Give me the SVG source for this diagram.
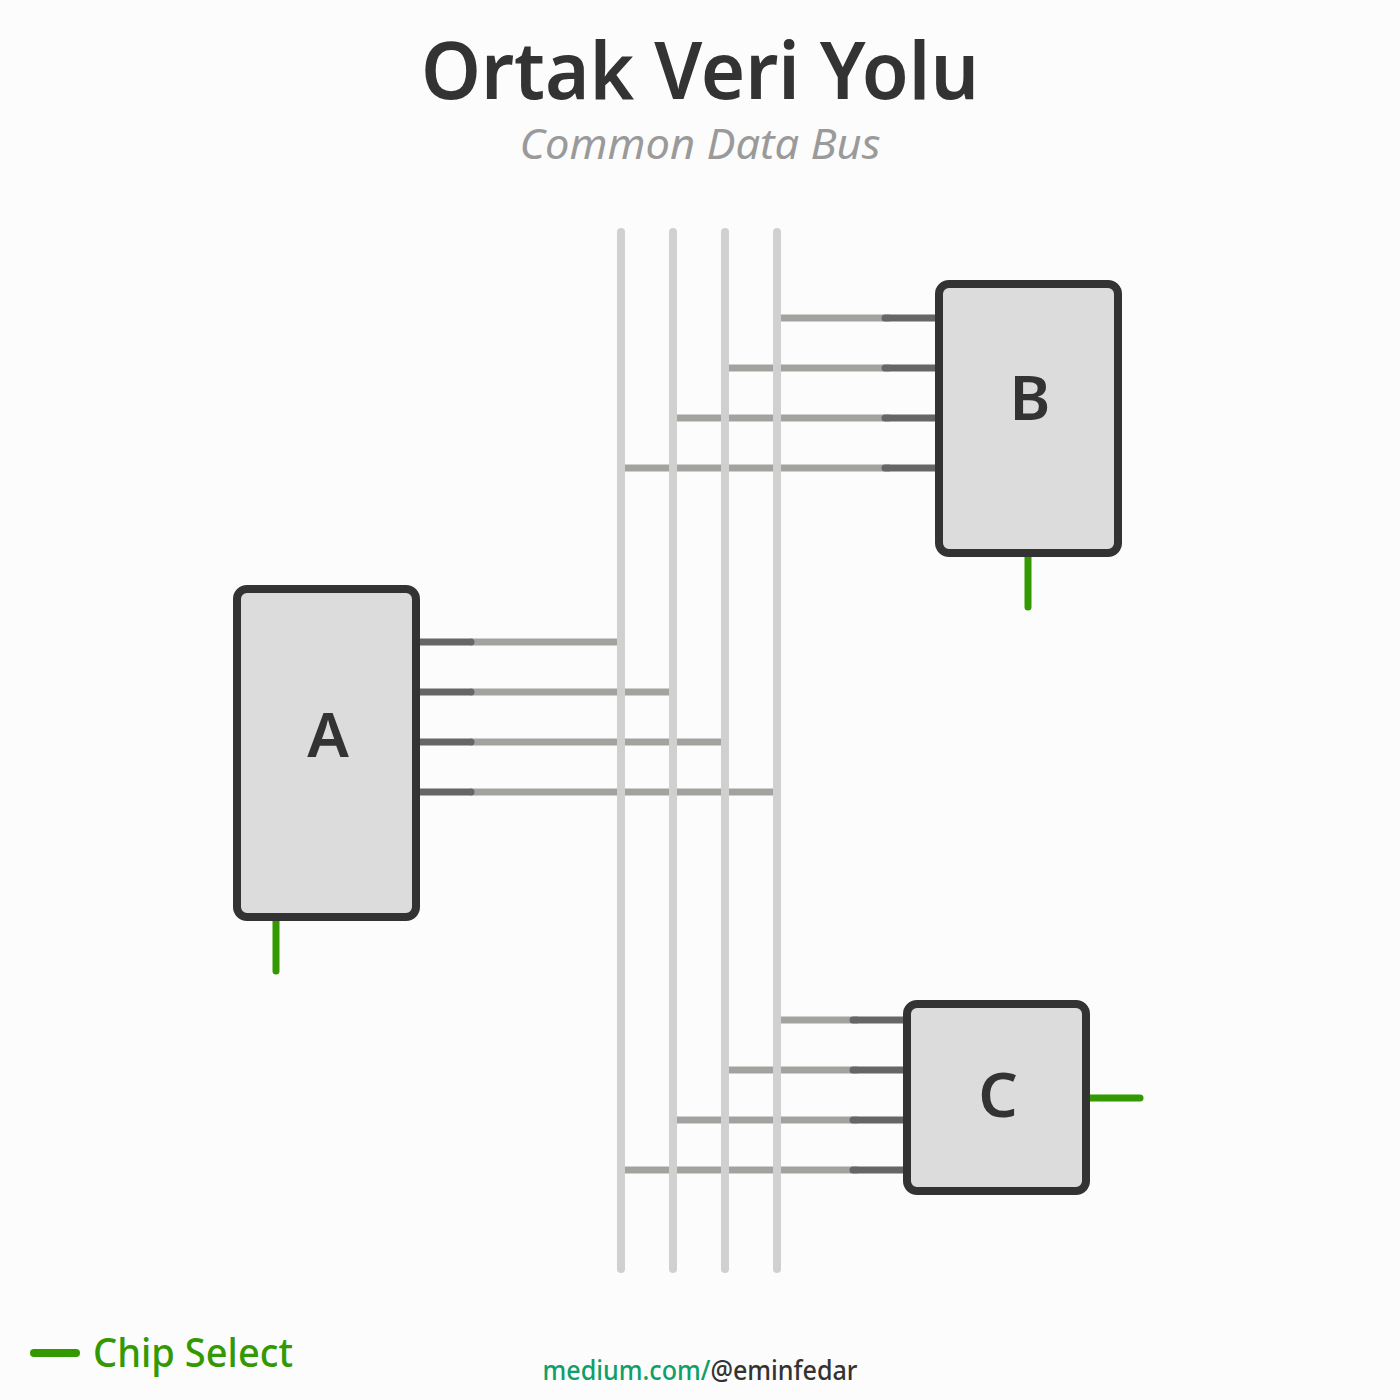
<svg xmlns="http://www.w3.org/2000/svg" width="1400" height="1400" viewBox="0 0 1400 1400">
<style>
.bus{stroke:#d0d0d0;stroke-width:8;stroke-linecap:round;fill:none}
.wire{stroke:#a2a29e;stroke-width:7;fill:none}
.pin{stroke:#666;stroke-width:7;stroke-linecap:round;fill:none}
.cs{stroke:#339900;stroke-width:7;stroke-linecap:round;fill:none}
.box{fill:#dcdcdc;stroke:#333;stroke-width:8}
.lbl{font-family:"Noto Sans","Open Sans",sans-serif;font-weight:600;font-size:62px;fill:#333;text-anchor:middle}
</style>
<rect width="1400" height="1400" fill="#fcfcfc"/>
<text x="700" y="99" font-family="Noto Sans, Open Sans, sans-serif" font-weight="600" font-size="80" fill="#333" text-anchor="middle" textLength="558" lengthAdjust="spacingAndGlyphs">Ortak Veri Yolu</text>
<text x="700" y="159" font-family="Noto Sans, Open Sans, sans-serif" font-style="italic" font-size="42" fill="#9a9a9a" text-anchor="middle" textLength="361" lengthAdjust="spacingAndGlyphs">Common Data Bus</text>
<g id="connectors">
<line class="wire" x1="777" y1="318" x2="890" y2="318"/>
<line class="wire" x1="725" y1="368" x2="890" y2="368"/>
<line class="wire" x1="673" y1="418" x2="890" y2="418"/>
<line class="wire" x1="621" y1="468" x2="890" y2="468"/>
<line class="pin" x1="885" y1="318" x2="935" y2="318"/>
<line class="pin" x1="885" y1="368" x2="935" y2="368"/>
<line class="pin" x1="885" y1="418" x2="935" y2="418"/>
<line class="pin" x1="885" y1="468" x2="935" y2="468"/>
<line class="wire" x1="470" y1="642" x2="621" y2="642"/>
<line class="wire" x1="470" y1="692" x2="673" y2="692"/>
<line class="wire" x1="470" y1="742" x2="725" y2="742"/>
<line class="wire" x1="470" y1="792" x2="777" y2="792"/>
<line class="pin" x1="420" y1="642" x2="471" y2="642"/>
<line class="pin" x1="420" y1="692" x2="471" y2="692"/>
<line class="pin" x1="420" y1="742" x2="471" y2="742"/>
<line class="pin" x1="420" y1="792" x2="471" y2="792"/>
<line class="wire" x1="777" y1="1020" x2="858" y2="1020"/>
<line class="wire" x1="725" y1="1070" x2="858" y2="1070"/>
<line class="wire" x1="673" y1="1120" x2="858" y2="1120"/>
<line class="wire" x1="621" y1="1170" x2="858" y2="1170"/>
<line class="pin" x1="853" y1="1020" x2="903" y2="1020"/>
<line class="pin" x1="853" y1="1070" x2="903" y2="1070"/>
<line class="pin" x1="853" y1="1120" x2="903" y2="1120"/>
<line class="pin" x1="853" y1="1170" x2="903" y2="1170"/>
<line class="bus" x1="621" y1="232" x2="621" y2="1269"/>
<line class="bus" x1="673" y1="232" x2="673" y2="1269"/>
<line class="bus" x1="725" y1="232" x2="725" y2="1269"/>
<line class="bus" x1="777" y1="232" x2="777" y2="1269"/>
<line class="cs" x1="276" y1="921" x2="276" y2="971"/>
<line class="cs" x1="1028" y1="557" x2="1028" y2="607"/>
<line class="cs" x1="1090" y1="1098" x2="1140" y2="1098"/>
</g>
<g id="nodeA">
<rect class="box" x="237" y="589" width="179" height="328" rx="10"/>
<text class="lbl" x="328" y="757">A</text>
</g>
<g id="nodeB">
<rect class="box" x="939" y="284" width="179" height="269" rx="10"/>
<text class="lbl" x="1030" y="420">B</text>
</g>
<g id="nodeC">
<rect class="box" x="907" y="1004" width="179" height="187" rx="10"/>
<text class="lbl" x="998" y="1117">C</text>
</g>
<g id="legend">
<line class="cs" x1="34" y1="1353" x2="76" y2="1353" style="stroke-width:8"/>
<text x="93" y="1367" font-family="Noto Sans, Open Sans, sans-serif" font-weight="500" font-size="39" fill="#339900" textLength="200" lengthAdjust="spacingAndGlyphs">Chip Select</text>
</g>
<text x="700" y="1380" font-family="Noto Sans, Open Sans, sans-serif" font-weight="500" font-size="27" text-anchor="middle" textLength="315" lengthAdjust="spacingAndGlyphs"><tspan fill="#109f6a">medium.com/</tspan><tspan fill="#333">@eminfedar</tspan></text>
</svg>
